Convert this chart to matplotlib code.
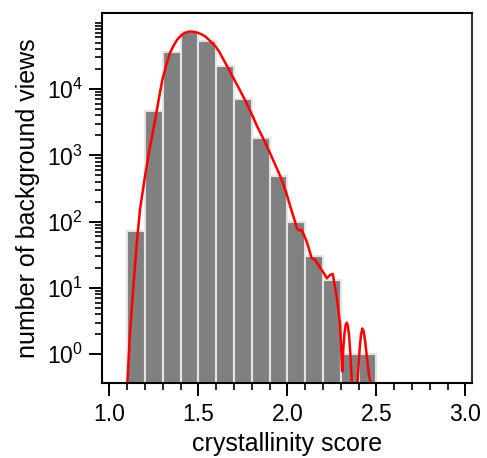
import numpy as np
import matplotlib
matplotlib.use("Agg")
import matplotlib.pyplot as plt
from matplotlib.ticker import FixedLocator, NullFormatter

plt.rcParams['font.family'] = ['Liberation Sans', 'DejaVu Sans']
plt.rcParams['mathtext.fontset'] = 'custom'
plt.rcParams['mathtext.rm'] = 'Liberation Sans'
plt.rcParams['mathtext.it'] = 'Liberation Sans'

# histogram: left edges of 0.1-wide bins and counts
bin_left = [1.1, 1.2, 1.3, 1.4, 1.5, 1.6, 1.7, 1.8, 1.9, 2.0, 2.1, 2.2, 2.3, 2.4]
counts = [72, 4700, 36600, 72000, 53000, 22500, 7000, 1850, 490, 100, 30, 13, 1, 1]

# density curve
curve_x = [1.090, 1.101, 1.116, 1.135, 1.154, 1.172, 1.200, 1.229, 1.257, 1.276,
           1.297, 1.320, 1.340, 1.360, 1.380, 1.400, 1.420, 1.440, 1.460,
           1.480, 1.500, 1.520, 1.540, 1.560, 1.580, 1.600, 1.620, 1.640, 1.660,
           1.700, 1.730, 1.760, 1.800, 1.830, 1.862, 1.900, 1.930, 1.959, 1.990,
           2.020, 2.043, 2.053, 2.066, 2.081, 2.109, 2.137, 2.156, 2.193, 2.222,
           2.240, 2.255, 2.277, 2.296, 2.308, 2.315, 2.322, 2.328, 2.334, 2.340,
           2.347, 2.354, 2.362, 2.368, 2.385, 2.395, 2.405, 2.413, 2.421, 2.429,
           2.438, 2.448, 2.458, 2.468, 2.475]
curve_y = [0.05, 0.36, 2.07, 10.5, 47, 150, 480, 1350, 3400, 6600,
           13500, 23000, 34700, 44700, 55000, 63100, 69200, 72800, 73600,
           72400, 70000, 66400, 61700, 55000, 49000, 42700, 35500, 28200, 22500,
           14100, 10000, 7000, 4170, 2750, 1850, 1120, 740, 494, 295,
           158, 100, 80, 74, 75, 50, 28, 26.5, 18.7, 14,
           15.7, 16.3, 7.4, 2.9, 0.55, 1.3, 2.2, 2.8, 3.0, 2.7,
           1.9, 1.0, 0.4, 0.15, 0.15, 0.4, 1.1, 1.9, 2.45, 2.2,
           1.5, 0.85, 0.5, 0.36, 0.2]

xticks = [1.0, 1.5, 2.0, 2.5, 3.0]
yticks = [1, 10, 100, 1000, 10000]
ytick_labels = ['$10^{0}$', '$10^{1}$', '$10^{2}$', '$10^{3}$', '$10^{4}$']

fig = plt.figure(figsize=(4.87, 4.58), dpi=100)
ax = fig.add_axes([0.2088, 0.1631, 0.761, 0.8085])

ax.bar(bin_left, counts, width=0.1, align='edge', bottom=0.01,
       color='#808080', edgecolor='#e4e4e4', linewidth=1.5)
ax.plot(curve_x, curve_y, color='#ff0000', linewidth=1.8)

ax.set_yscale('log')
ax.set_xlim(0.957, 3.039)
ax.set_ylim(0.365, 1.4e5)

ax.xaxis.set_major_locator(FixedLocator(xticks))
ax.xaxis.set_minor_locator(FixedLocator(np.round(np.arange(1.0, 3.01, 0.1), 2)))
ax.set_xticklabels(['1.0', '1.5', '2.0', '2.5', '3.0'])

minor_y = [m * 10 ** e for e in range(0, 5) for m in range(2, 10)] + [1e5]
ax.yaxis.set_major_locator(FixedLocator(yticks))
ax.yaxis.set_minor_locator(FixedLocator(minor_y))
ax.yaxis.set_minor_formatter(NullFormatter())
ax.set_yticklabels(ytick_labels)

ax.tick_params(which='major', direction='out', length=9.5, width=1.4,
               labelsize=16.5, pad=4, color='black')
ax.tick_params(which='minor', direction='out', length=5, width=1.2, color='black')
ax.tick_params(axis='x', which='major', pad=5)

for s in ax.spines.values():
    s.set_linewidth(1.5)
ax.spines['right'].set_color('#333333')

ax.set_xlabel('crystallinity score', fontsize=18, labelpad=4)
ax.set_ylabel('number of background views', fontsize=18, labelpad=5)

fig.savefig('out.png', dpi=100)
